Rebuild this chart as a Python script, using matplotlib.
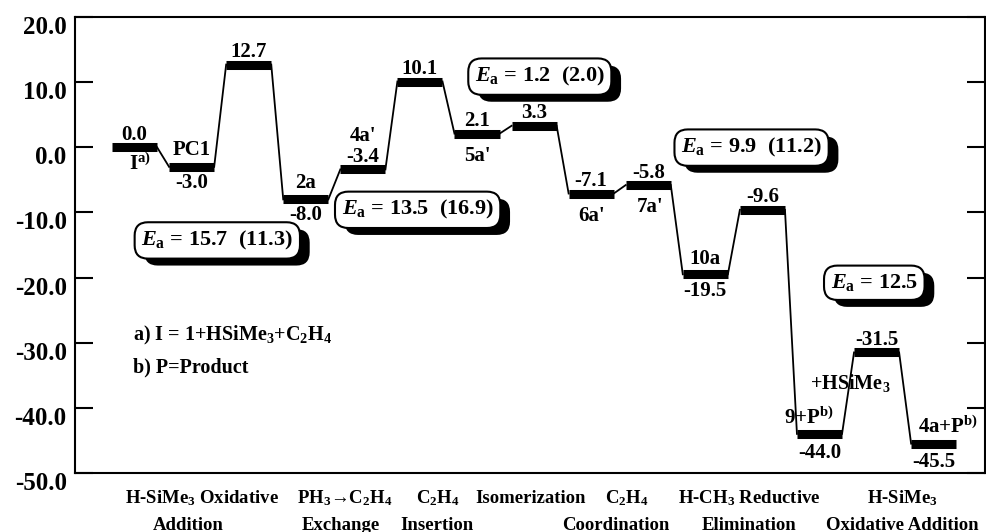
import matplotlib
matplotlib.use('Agg')
import matplotlib.pyplot as plt
import matplotlib.patheffects as pe
from matplotlib.transforms import ScaledTranslation, blended_transform_factory

plt.rcParams['font.family'] = ['Liberation Serif', 'DejaVu Serif']
plt.rcParams['font.weight'] = 'bold'
plt.rcParams['mathtext.fontset'] = 'custom'
plt.rcParams['mathtext.rm'] = 'Liberation Serif:bold'
plt.rcParams['mathtext.it'] = 'Liberation Serif:italic:bold'
plt.rcParams['mathtext.bf'] = 'Liberation Serif:bold'

# relative energies of the stationary points, left to right
energies = [0.0, -3.0, 12.7, -8.0, -3.4, 10.1, 2.1, 3.3, -7.1, -5.8, -19.5, -9.6, -44.0, -31.5, -45.5]
names = [r'I$^{\mathrm{a)}}$', 'PC1', '', '2a', "4a'", '', "5a'", '', "6a'", "7a'",
         '10a', '', r'9+P$^{\mathrm{b)}}$', '', r'4a+P$^{\mathrm{b)}}$']
barriers = [r'$E_{\mathrm{a}}$ = 15.7  (11.3)', r'$E_{\mathrm{a}}$ = 13.5  (16.9)',
            r'$E_{\mathrm{a}}$ = 1.2  (2.0)', r'$E_{\mathrm{a}}$ = 9.9  (11.2)',
            r'$E_{\mathrm{a}}$ = 12.5']
steps_top = ['H-SiMe$_3$ Oxidative', 'PH$_3$\u2192C$_2$H$_4$', 'C$_2$H$_4$', 'Isomerization',
             'C$_2$H$_4$', 'H-CH$_3$ Reductive', 'H-SiMe$_3$']
steps_bottom = ['Addition', 'Exchange', 'Insertion', '', 'Coordination', 'Elimination',
                'Oxidative Addition']
yticks = [20, 10, 0, -10, -20, -30, -40, -50]
notes = [r'a) I = 1+HSiMe$_3$+C$_2$H$_4$', 'b) P=Product']

# label placement (offsets in points from the level)
value_dy = [9, -12, 9, -11, 9, 9, 9, 9, 9, 9, -12, 9, -14, 9, -13]
name_dy = [-12, 12, 0, 12, 24, 0, -16, 0, -16, -16, 11, 0, 11, 0, 12]
name_dx = [4, 0, 0, 0, 0, 0, 0, 0, 0, 1, 0, 0, -8, 0, 10]
barrier_xy = [(1.45, -14.3), (4.96, -9.6), (7.1, 10.85), (10.81, -0.05), (12.96, -20.8)]
top_x = [1.18, 3.69, 5.32, 6.93, 8.63, 10.77, 13.46]
bottom_x = [0.94, 3.62, 5.30, 0, 8.44, 10.77, 13.45]

fig, ax = plt.subplots(figsize=(9.87, 5.32), dpi=100)
fig.subplots_adjust(left=0.076, right=0.998, bottom=0.111, top=0.968)

half = 0.395
xs = list(range(len(energies)))
ax.hlines(energies, [i - half for i in xs], [i + half for i in xs],
          color='black', lw=6.5, zorder=3)
for i in range(len(energies) - 1):
    ax.plot([i + half, i + 1 - half], [energies[i], energies[i + 1]],
            color='black', lw=1.3, zorder=2)

for i, e in enumerate(energies):
    ax.annotate('%.1f' % e, (i, e), xytext=(0, value_dy[i]), textcoords='offset points',
                ha='center', va='center', fontsize=15, zorder=4)
    if names[i]:
        ax.annotate(names[i], (i, e), xytext=(name_dx[i], name_dy[i]),
                    textcoords='offset points', ha='center', va='center',
                    fontsize=15, zorder=4)

ax.text(12.54, -36.2, r'+HSiMe$_3$', ha='center', va='center', fontsize=14.5, zorder=4)

# E_a boxes with a drop shadow
shadow = [pe.SimplePatchShadow(offset=(7, -5), shadow_rgbFace='black', alpha=1.0), pe.Normal()]
for txt, (bx, by) in zip(barriers, barrier_xy):
    t = ax.text(bx, by, txt, ha='center', va='center', fontsize=16, zorder=6,
                bbox=dict(boxstyle='round,pad=0.3,rounding_size=0.6', fc='white', ec='black', lw=1.5))
    t.get_bbox_patch().set_path_effects(shadow)

ax.text(-0.03, -28.9, notes[0], ha='left', va='center', fontsize=14.5)
ax.text(-0.03, -33.8, notes[1], ha='left', va='center', fontsize=14.5)

trans = blended_transform_factory(ax.transData, ax.transAxes)
for sx, s in zip(top_x, steps_top):
    ax.text(sx, -0.066, s, transform=trans, ha='center', va='baseline', fontsize=13.5,
            clip_on=False)
for sx, s in zip(bottom_x, steps_bottom):
    if s:
        ax.text(sx, -0.125, s, transform=trans, ha='center', va='baseline', fontsize=13.5,
                clip_on=False)

ax.set_xlim(-1.043, 14.90)
ax.set_ylim(-50, 20)
ax.set_xticks([])
ax.set_yticks(yticks)
ax.set_yticklabels(['%.1f' % t for t in yticks])
ax.tick_params(axis='y', direction='in', length=13, width=1.5, right=True,
               labelsize=18, pad=6)
for sp in ax.spines.values():
    sp.set_linewidth(1.5)

shift = ScaledTranslation(0, -0.08, fig.dpi_scale_trans)
for lab in ax.get_yticklabels():
    lab.set_transform(lab.get_transform() + shift)

fig.savefig('out.png', dpi=100)
